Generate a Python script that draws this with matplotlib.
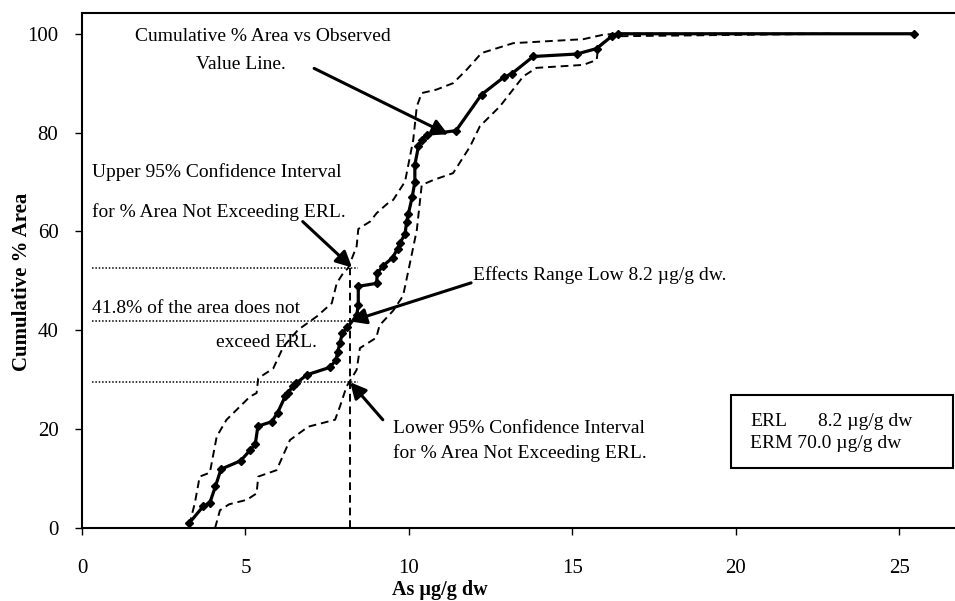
import matplotlib
matplotlib.use("Agg")
import matplotlib.pyplot as plt
from matplotlib.patches import Rectangle

plt.rcParams['font.family'] = ['Liberation Serif', 'DejaVu Serif']

# Observed cumulative % area vs arsenic concentration
x_obs = [3.28, 3.71, 3.91, 4.08, 4.25, 4.85, 5.15, 5.30, 5.38, 5.80, 5.98, 6.22, 6.30,
         6.46, 6.55, 6.88, 7.58, 7.77, 7.82, 7.89, 7.96, 8.12, 8.40, 8.45, 8.45, 9.01,
         9.03, 9.20, 9.50, 9.65, 9.72, 9.88, 9.93, 9.98, 10.10, 10.18, 10.18, 10.29,
         10.40, 10.54, 11.44, 12.22, 12.90, 13.14, 13.80, 15.13, 15.74, 16.20, 16.40, 25.44]
y_obs = [1.0, 4.4, 5.1, 8.4, 11.9, 13.6, 15.8, 17.0, 20.6, 21.5, 23.3, 26.7, 27.4,
         28.7, 29.3, 31.0, 32.5, 34.0, 35.7, 37.4, 39.4, 40.6, 43.0, 45.1, 48.9, 49.5,
         51.5, 53.0, 54.7, 56.5, 57.6, 59.5, 62.0, 63.5, 67.0, 70.0, 73.5, 77.2,
         78.5, 79.6, 80.4, 87.7, 91.2, 91.9, 95.4, 95.9, 97.0, 99.5, 100.0, 100.0]

# Upper 95% confidence bound
x_upper = [3.28, 3.45, 3.60, 3.91, 4.12, 4.42, 5.14, 5.34, 5.39, 5.85, 6.16, 6.61, 7.18,
           7.64, 7.79, 7.99, 8.14, 8.40, 8.45, 8.81, 9.01, 9.37, 9.52, 9.88, 10.13,
           10.24, 10.39, 10.84, 11.35, 11.76, 12.22, 13.19, 15.33, 15.94, 16.30, 23.0]
y_upper = [0.6, 5.0, 10.4, 11.2, 18.5, 21.9, 26.6, 27.3, 30.3, 32.3, 36.7, 40.1, 42.8,
           45.5, 49.5, 51.6, 52.6, 57.0, 60.5, 62.0, 63.7, 65.8, 66.4, 70.1, 78.5,
           85.3, 88.0, 88.7, 90.0, 92.7, 96.1, 98.1, 98.9, 99.8, 100.0, 100.0]

# Lower 95% confidence bound
x_lower = [4.07, 4.22, 4.50, 5.04, 5.34, 5.39, 5.95, 6.36, 6.92, 7.74, 7.89, 8.09, 8.40,
           8.50, 9.00, 9.10, 9.52, 9.82, 9.98, 10.24, 10.39, 10.74, 11.35, 11.87, 12.17,
           12.78, 13.50, 13.90, 15.33, 15.74, 15.79, 16.04, 16.35, 23.0]
y_lower = [0.0, 3.6, 4.8, 5.7, 7.0, 10.4, 11.7, 17.8, 20.5, 21.9, 24.6, 28.6, 32.0,
           36.4, 38.5, 41.0, 44.0, 47.0, 52.0, 60.3, 69.4, 70.4, 71.8, 77.2, 81.3,
           85.3, 91.4, 93.1, 93.7, 94.7, 97.4, 98.8, 99.5, 100.0]

erl = 8.2
erm = 70.0
pct_upper = 52.7
pct_at_erl = 41.8
pct_lower = 29.5

x_ticks = [0, 5, 10, 15, 20, 25]
y_ticks = [0, 20, 40, 60, 80, 100]

fig = plt.figure(figsize=(9.55, 6.01), dpi=100)
ax = fig.add_axes([82 / 955, 1 - 528 / 601, 1 - 82 / 955, (528 - 13) / 601])

dash = (0, (4, 2.5))
ax.plot(x_upper, y_upper, color='black', lw=1.4, ls=dash)
ax.plot(x_lower, y_lower, color='black', lw=1.4, ls=dash)
ax.plot(x_obs, y_obs, color='black', lw=2.3, marker='D', ms=4.2)

# ERL reference lines
dots = (0, (1, 1.2))
ax.plot([erl, erl], [0, pct_upper], color='black', lw=1.4, ls=dash)
ax.plot([0.3, 8.45], [pct_upper, pct_upper], color='black', lw=1.1, ls=dots)
ax.plot([0.3, 8.5], [pct_at_erl, pct_at_erl], color='black', lw=1.1, ls=dots)
ax.plot([0.3, 8.45], [pct_lower, pct_lower], color='black', lw=1.1, ls=dots)

ax.set_xlim(0, 26.7)
ax.set_ylim(0, 104.2)
ax.set_xticks(x_ticks)
ax.set_yticks(y_ticks)
ax.tick_params(direction='out', length=5, width=1, labelsize=15)
ax.tick_params(axis='x', pad=17)
ax.tick_params(axis='y', pad=12)
for side in ['left', 'bottom', 'top']:
    ax.spines[side].set_linewidth(1.5)
ax.spines['right'].set_visible(False)

fs = 14
arrow = dict(arrowstyle='-|>', lw=2.2, color='black', mutation_scale=24,
             shrinkA=0, shrinkB=0)

ax.text(1.62, 99.4, 'Cumulative % Area vs Observed', fontsize=fs, va='center')
ax.text(3.5, 93.7, 'Value Line.', fontsize=fs, va='center')
ax.annotate('', xy=(11.2, 79.6), xytext=(7.1, 93.0), arrowprops=arrow)

ax.text(0.3, 72.1, 'Upper 95% Confidence Interval', fontsize=fs, va='center')
ax.text(0.3, 64.0, 'for % Area Not Exceeding ERL.', fontsize=fs, va='center')
ax.annotate('', xy=(8.26, pct_upper), xytext=(6.75, 62.0), arrowprops=arrow)

ax.text(0.3, 44.4, '41.8% of the area does not', fontsize=fs, va='center')
ax.text(4.1, 37.6, 'exceed ERL.', fontsize=fs, va='center')

ax.text(11.96, 51.2, 'Effects Range Low 8.2 µg/g dw.', fontsize=fs, va='center')
ax.annotate('', xy=(erl, pct_at_erl), xytext=(11.9, 49.6), arrowprops=arrow)

ax.text(9.5, 20.2, 'Lower 95% Confidence Interval', fontsize=fs, va='center')
ax.text(9.5, 15.2, 'for % Area Not Exceeding ERL.', fontsize=fs, va='center')
ax.annotate('', xy=(erl, pct_lower), xytext=(9.2, 21.9), arrowprops=arrow)

# Guideline values box
ax.add_patch(Rectangle((0.743, 0.1165), 0.2545, 0.1415, transform=ax.transAxes,
                       fill=False, lw=1.5, color='black'))
ax.text(20.44, 21.5, 'ERL', fontsize=fs, va='center')
ax.text(25.41, 21.5, f'{erl:.1f} µg/g dw', fontsize=fs, va='center', ha='right')
ax.text(20.44, 17.1, f'ERM {erm:.1f} µg/g dw', fontsize=fs, va='center')

fig.text(440 / 955, 1 - 590 / 601, 'As µg/g dw', fontsize=14.5, fontweight='bold',
         ha='center', va='center')
fig.text(22 / 955, 1 - 282 / 601, 'Cumulative % Area', fontsize=15, fontweight='bold',
         ha='center', va='center', rotation=90)

fig.savefig('out.png', dpi=100)
